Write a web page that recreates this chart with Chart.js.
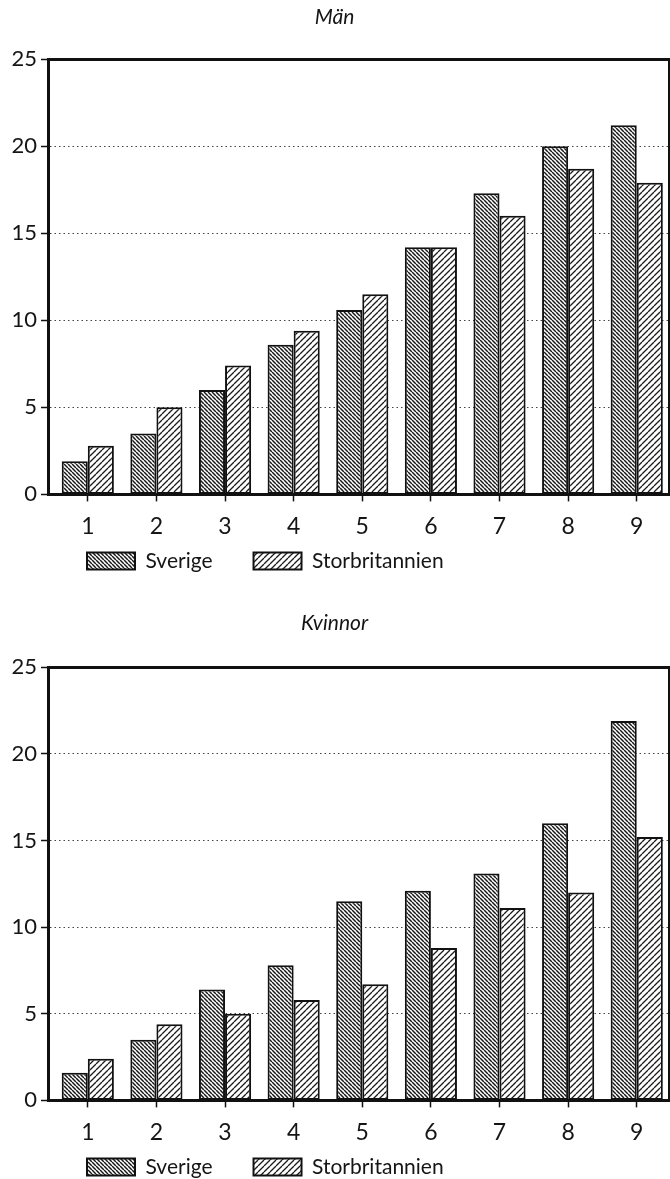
<!DOCTYPE html>
<html lang="sv">
<head>
<meta charset="utf-8">
<title>Män och Kvinnor</title>
<script src="https://cdn.jsdelivr.net/npm/chart.js@4"></script>
<style>
  html, body { margin: 0; padding: 0; background: #fff; overflow: hidden; }
  .wrap { position: absolute; left: 0; width: 670px; }
  #top { top: 0; }
  #bottom { top: 590px; }
</style>
</head>
<body>
<div class="wrap" id="top"><canvas id="manChart" width="670" height="623"></canvas></div>
<div class="wrap" id="bottom"><canvas id="kvinnorChart" width="670" height="639"></canvas></div>
<script>
const grupper = [1, 2, 3, 4, 5, 6, 7, 8, 9];
const yTicks = [0, 5, 10, 15, 20, 25];
const serieNamn = ["Sverige", "Storbritannien"];

const manSverige = [1.9, 3.5, 6.0, 8.6, 10.6, 14.2, 17.3, 20.0, 21.2];
const manStorbritannien = [2.8, 5.0, 7.4, 9.4, 11.5, 14.2, 16.0, 18.7, 17.9];

const kvinnorSverige = [1.6, 3.5, 6.4, 7.8, 11.5, 12.1, 13.1, 16.0, 21.9];
const kvinnorStorbritannien = [2.4, 4.4, 5.0, 5.8, 6.7, 8.8, 11.1, 12.0, 15.2];

Chart.defaults.font.family = "Lato, 'Open Sans', sans-serif";
Chart.defaults.color = "#151515";

// diagonal hatch patterns for the bars
function hatch(size, dir, lw) {
    const c = document.createElement("canvas");
    c.width = c.height = size;
    const g = c.getContext("2d");
    g.fillStyle = "#fff";
    g.fillRect(0, 0, size, size);
    g.strokeStyle = "#1a1a1a";
    g.lineWidth = lw;
    g.beginPath();
    for (let k = -1; k <= 1; k++) {
        if (dir === "back") {
            g.moveTo(k * size, 0);
            g.lineTo(k * size + size, size);
        } else {
            g.moveTo(k * size, size);
            g.lineTo(k * size + size, 0);
        }
    }
    g.stroke();
    return g.createPattern(c, "repeat");
}

const svPattern = hatch(4, "back", 1.5);
const sbPattern = hatch(6, "fwd", 1.3);

// move the legend where the original has it
const nudge = {
    id: "nudge",
    afterLayout(chart, args, opts) {
        const lg = chart.legend;
        if (!lg) return;
        const lab = lg.options.labels;
        const pad = lab.padding;
        const itemH = Math.max(lab.font.size, lab.boxHeight);
        lg.left = opts.legendX - pad;
        lg.top = opts.legendY - pad - itemH / 2;
    }
};

function makeChart(id, title, sv, sb, titlePad, legendY) {
    const ctx = document.getElementById(id);
    return new Chart(ctx, {
        type: "bar",
        data: {
            datasets: [
                {
                    label: serieNamn[0],
                    data: grupper.map((g, i) => ({ x: g, y: sv[i] })),
                    backgroundColor: svPattern,
                    borderColor: "#111",
                    borderWidth: 2,
                    borderSkipped: false
                },
                {
                    label: serieNamn[1],
                    data: grupper.map((g, i) => ({ x: g, y: sb[i] })),
                    backgroundColor: sbPattern,
                    borderColor: "#111",
                    borderWidth: 2,
                    borderSkipped: false
                }
            ]
        },
        options: {
            responsive: false,
            animation: false,
            categoryPercentage: 0.76,
            barPercentage: 1,
            layout: { padding: { left: 0, right: 1, top: 0, bottom: 0 } },
            plugins: {
                tooltip: { enabled: false },
                title: {
                    display: true,
                    text: title,
                    color: "#151515",
                    font: { size: 21, style: "italic", weight: "normal" },
                    padding: titlePad
                },
                legend: {
                    position: "bottom",
                    align: "start",
                    labels: {
                        boxWidth: 48,
                        boxHeight: 17,
                        padding: 41,
                        color: "#151515",
                        font: { size: 21 }
                    }
                },
                nudge: { legendX: 87, legendY: legendY }
            },
            scales: {
                x: {
                    type: "linear",
                    position: "bottom",
                    offset: false,
                    min: 0.42,
                    max: 9.47,
                    afterBuildTicks: (s) => { s.ticks = grupper.map(v => ({ value: v })); },
                    grid: { display: true, offset: false, drawOnChartArea: false, drawTicks: true, tickLength: 7, tickColor: "#111", tickWidth: 1.5 },
                    border: { display: true, color: "#111", width: 3 },
                    ticks: { padding: 11, font: { size: 23 }, color: "#151515" }
                },
                xTop: {
                    type: "linear",
                    position: "top",
                    min: 0,
                    max: 1,
                    grid: { display: false, drawTicks: false },
                    border: { display: true, color: "#111", width: 3 },
                    ticks: { display: false }
                },
                y: {
                    min: 0,
                    max: 25,
                    afterFit: (s) => { s.width = 48; },
                    afterBuildTicks: (s) => { s.ticks = yTicks.map(v => ({ value: v })); },
                    grid: {
                        color: "#444",
                        lineWidth: 1,
                        tickLength: 7,
                        tickColor: "#111",
                        tickWidth: 1.5,
                        tickBorderDash: [],
                        tickBorderDashOffset: 0
                    },
                    border: { display: true, color: "#111", width: 3, dash: [1.5, 3] },
                    ticks: { padding: 4, font: { size: 22 }, color: "#151515" }
                },
                yRight: {
                    type: "linear",
                    position: "right",
                    min: 0,
                    max: 1,
                    grid: { display: false, drawTicks: false },
                    border: { display: true, color: "#111", width: 2 },
                    ticks: { display: false }
                }
            }
        },
        plugins: [nudge]
    });
}

makeChart("manChart", "Män", manSverige, manStorbritannien, { top: 5, bottom: 29 }, 561);
makeChart("kvinnorChart", "Kvinnor", kvinnorSverige, kvinnorStorbritannien, { top: 21, bottom: 31 }, 577);
</script>
</body>
</html>
